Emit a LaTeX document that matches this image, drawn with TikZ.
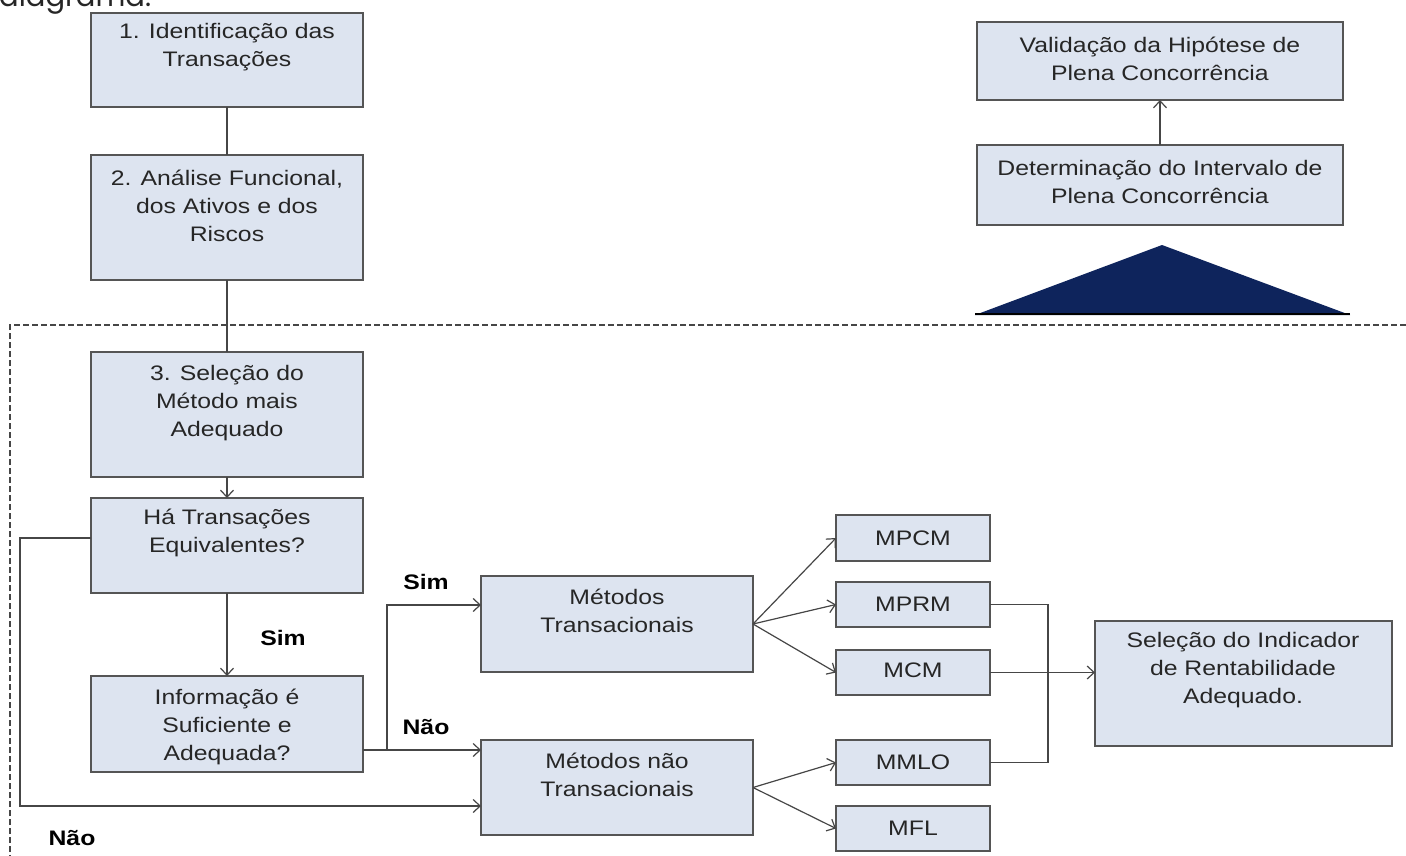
\documentclass[tikz,border=0pt]{standalone}
\usepackage{fontspec}
\setmainfont{Liberation Sans}[FakeStretch=1.18]
\newfontfamily\popp{Poppins}
\usetikzlibrary{arrows.meta}
\definecolor{boxfill}{RGB}{221,228,240}
\definecolor{boxline}{RGB}{85,85,85}
\definecolor{linec}{RGB}{70,70,70}
\definecolor{navy}{RGB}{14,36,92}
\newcommand\bx[5]{\node[box, minimum width={#4-#2}, minimum height={#5-#3}] (#1) at ({(#2+#4)/2},{(#3+#5)/2}) {};}
\begin{document}
\begin{tikzpicture}[x=1pt,y=-1pt,
  box/.style={draw=boxline, fill=boxfill, line width=1.6pt, inner sep=0pt, outer sep=0pt},
  txt/.style={align=center, inner sep=0pt, text=black!85, font=\fontsize{21}{28}\selectfont},
  lbl/.style={inner sep=0pt, font=\fontsize{21}{28}\selectfont\bfseries},
  conn/.style={draw=linec, line width=1.2pt},
  arr/.style={conn, -{Straight Barb[length=7pt,width=13pt,line width=1.2pt]}}]
\useasboundingbox (0,0) rectangle (1406,856);
\fill[white] (0,0) rectangle (1406,856);
% cut-off heading text
\node[anchor=base west, inner sep=0pt, font=\popp\fontsize{29}{30}\selectfont, text=black!85] (head) at (-1,7) {diagrama:};
% dashed frame
\draw[conn, line width=1.1pt, dash pattern=on 6pt off 3pt] (10,870) -- (10,325) -- (1420,325);
% triangle
\fill[navy] (975,315) -- (1162,245) -- (1350,315) -- cycle;
\draw[black, line width=2.2pt] (975,314) -- (1350,314);
% boxes
\bx{b1}{91}{13}{363}{107}
\bx{b2}{91}{155}{363}{280}
\bx{b3}{91}{352}{363}{477}
\bx{b4}{91}{498}{363}{593}
\bx{b5}{91}{676}{363}{772}
\bx{mt}{481}{576}{753}{672}
\bx{mnt}{481}{740}{753}{835}
\bx{mpcm}{836}{515}{990}{561}
\bx{mprm}{836}{582}{990}{627}
\bx{mcm}{836}{650}{990}{695}
\bx{mmlo}{836}{740}{990}{785}
\bx{mfl}{836}{806}{990}{851}
\bx{sel}{1095}{621}{1392}{746}
\bx{val}{977}{22}{1343}{100}
\bx{det}{977}{145}{1343}{225}
% texts
\node[txt] (t1) at (227,47) {1. Identificação das\\Transações};
\node[txt] (t2) at (227,206) {2. Análise Funcional,\\dos Ativos e dos\\Riscos};
\node[txt] (t3) at (227,403) {3. Seleção do\\Método mais\\Adequado};
\node[txt] (t4) at (227,533) {Há Transações\\Equivalentes?};
\node[txt] (t5) at (227,727) {Informação é\\Suficiente e\\Adequada?};
\node[txt] (tmt) at (617,611) {Métodos\\Transacionais};
\node[txt] (tmnt) at (617,775) {Métodos não\\Transacionais};
\node[txt] (tmpcm) at (913,538) {MPCM};
\node[txt] (tmprm) at (913,604) {MPRM};
\node[txt] (tmcm) at (913,670) {MCM};
\node[txt] (tmmlo) at (913,762) {MMLO};
\node[txt] (tmfl) at (913,828) {MFL};
\node[txt] (tsel) at (1243,670) {Seleção do Indicador\\de Rentabilidade\\Adequado.};
\node[txt] (tval) at (1160,59) {Validação da Hipótese de\\Plena Concorrência};
\node[txt] (tdet) at (1160,182) {Determinação do Intervalo de\\Plena Concorrência};
% labels
\node[lbl] (s1) at (283,638) {Sim};
\node[lbl] (s2) at (426,582) {Sim};
\node[lbl] (n1) at (426,727) {Não};
\node[lbl] (n2) at (72,838) {Não};
% helper coordinates
\coordinate (j) at (387,750);
\coordinate (js) at (387,605);
\coordinate (lp) at (20,538);
\coordinate (lb) at (20,806);
\coordinate (br) at (1048,0);
% connectors
\draw[conn] (b1) -- (b2);
\draw[conn] (b2) -- (b3);
\draw[arr] (b3) -- (b4);
\draw[arr] (b4) -- (b5);
\draw[arr] (b5.east |- j) -- (j) -- (mnt.west |- j);
\draw[arr] (j) -- (js) -- (mt.west |- js);
\draw[arr] (b4.west |- lp) -- (lp) -- (lb) -- (mnt.west |- lb);
\draw[arr] (mt.east) -- (mpcm.west);
\draw[arr] (mt.east) -- (mprm.west);
\draw[arr] (mt.east) -- (mcm.west);
\draw[arr] (mnt.east) -- (mmlo.west);
\draw[arr] (mnt.east) -- (mfl.west);
\draw[conn] (mprm.east) -- (mprm.east -| br) -- (mmlo.east -| br) -- (mmlo.east);
\draw[arr] (mcm.east) -- (mcm.east -| sel.west);
\draw[arr] (det) -- (val);
\end{tikzpicture}
\end{document}
